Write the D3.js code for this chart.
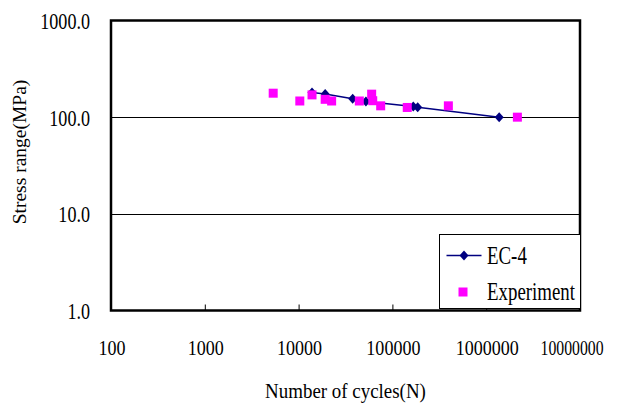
<!DOCTYPE html>
<html lang="en">
<head>
<meta charset="UTF-8">
<title>Stress range vs number of cycles</title>
<script src="https://d3js.org/d3.v7.min.js"></script>
<style>
  body { margin: 0; background: #fff; }
  svg { display: block; }
  text { font-family: "Liberation Serif", "Times New Roman", serif; fill: #000; }
</style>
</head>
<body>
<svg width="619" height="403"></svg>
<script>
// EC-4 design curve
var ecCycles = [13900, 19200, 37700, 52200, 167000, 186000, 1375000];
var ecStress = [180, 174, 155, 145, 129, 127, 100];

// experimental results
var expCycles = [5360, 10300, 13900, 19200, 22500, 44400, 60100, 61700, 75000, 144000, 395000, 2150000];
var expStress = [177, 147, 170, 153, 147, 147, 173, 148, 131, 126, 131, 100];

var xTicks = [100, 1000, 10000, 100000, 1000000, 10000000];
var yTicks = [1, 10, 100, 1000];
var gridLines = [10, 100];

var svg = d3.select("svg");
var plotL = 111, plotR = 580, plotT = 20.5, plotB = 310.5;

var x = d3.scaleLog().domain([100, 10000000]).range([plotL, plotR]);
var y = d3.scaleLog().domain([1, 1000]).range([plotB, plotT]);

// the source text is tall and narrow, so squeeze it horizontally
function addText(parent, tx, ty, str, size, sx, anchor) {
  return parent.append("text")
    .attr("transform", "translate(" + tx + "," + ty + ") scale(" + sx + ",1)")
    .attr("font-size", size)
    .attr("text-anchor", anchor || "start")
    .text(str);
}

// grid lines
svg.selectAll("line.grid")
  .data(gridLines)
  .enter().append("line")
  .attr("class", "grid")
  .attr("x1", plotL).attr("x2", plotR)
  .attr("y1", function(d) { return Math.round(y(d)) + 0.5; })
  .attr("y2", function(d) { return Math.round(y(d)) + 0.5; })
  .attr("stroke", "#000")
  .attr("stroke-width", 1);

// x axis: inner ticks, labels placed separately
var xAxis = svg.append("g")
  .attr("transform", "translate(0," + plotB + ")")
  .call(d3.axisTop(x).tickValues(xTicks).tickSize(6).tickFormat(""));
xAxis.select(".domain").remove();
xAxis.selectAll("line").attr("stroke", "#000");

var xLab = svg.append("g");
xTicks.forEach(function(d) {
  var t = addText(xLab, Math.min(x(d) + 1, 572), 355, d, 22, 0.82, "middle");
  if (d === 10000000) t.attr("textLength", 63 / 0.82).attr("lengthAdjust", "spacingAndGlyphs");
});

// y axis labels
var yAxis = svg.append("g")
  .attr("transform", "translate(" + plotL + ",0)")
  .call(d3.axisLeft(y).tickValues(yTicks).tickSize(0)
    .tickFormat(function(d) { return d3.format(".1f")(d); }));
yAxis.select(".domain").remove();
yAxis.selectAll("text")
  .attr("font-family", "Liberation Serif, serif")
  .attr("font-size", 23.5)
  .attr("fill", "#000")
  .attr("x", 0).attr("dy", null).attr("y", 8)
  .attr("transform", "translate(-21,0) scale(0.77,1)");

// EC-4 line + diamonds
var ecData = ecCycles.map(function(n, i) { return [n, ecStress[i]]; });
svg.append("path")
  .datum(ecData)
  .attr("fill", "none")
  .attr("stroke", "#000080")
  .attr("stroke-width", 1.5)
  .attr("d", d3.line().x(function(d) { return x(d[0]); }).y(function(d) { return y(d[1]); }));

var diamond = "M0,-5L4.5,0L0,5L-4.5,0Z";
svg.selectAll("path.ec")
  .data(ecData)
  .enter().append("path")
  .attr("class", "ec")
  .attr("d", diamond)
  .attr("fill", "#000080")
  .attr("transform", function(d) { return "translate(" + x(d[0]) + "," + y(d[1]) + ")"; });

// experiment squares
var expData = expCycles.map(function(n, i) { return [n, expStress[i]]; });
svg.selectAll("rect.exp")
  .data(expData)
  .enter().append("rect")
  .attr("class", "exp")
  .attr("x", function(d) { return x(d[0]) - 4.5; })
  .attr("y", function(d) { return y(d[1]) - 4.5; })
  .attr("width", 9).attr("height", 9)
  .attr("fill", "#ff00ff");

// plot border
svg.append("rect")
  .attr("x", plotL).attr("y", plotT)
  .attr("width", plotR - plotL).attr("height", plotB - plotT)
  .attr("fill", "none")
  .attr("stroke", "#000")
  .attr("stroke-width", 2.5);

// legend
var lg = svg.append("g").attr("transform", "translate(439.5,234.5)");
lg.append("rect")
  .attr("width", 141).attr("height", 74)
  .attr("fill", "#fff")
  .attr("stroke", "#000")
  .attr("stroke-width", 1);
lg.append("line")
  .attr("x1", 7).attr("x2", 42).attr("y1", 21).attr("y2", 21)
  .attr("stroke", "#000080").attr("stroke-width", 1.5);
lg.append("path").attr("d", diamond).attr("fill", "#000080")
  .attr("transform", "translate(24.5,21)");
addText(lg, 47.5, 29.5, "EC-4", 25.5, 0.74);
lg.append("rect").attr("x", 19).attr("y", 53).attr("width", 9).attr("height", 9)
  .attr("fill", "#ff00ff");
addText(lg, 47.5, 65.5, "Experiment", 25.5, 0.74);

// axis titles
addText(svg, (plotL + plotR) / 2, 398, "Number of cycles(N)", 21.5, 0.88, "middle");

svg.append("text")
  .attr("transform", "translate(26,152) rotate(-90)")
  .attr("text-anchor", "middle")
  .attr("font-size", 19.5)
  .text("Stress range(MPa)");
</script>
</body>
</html>
